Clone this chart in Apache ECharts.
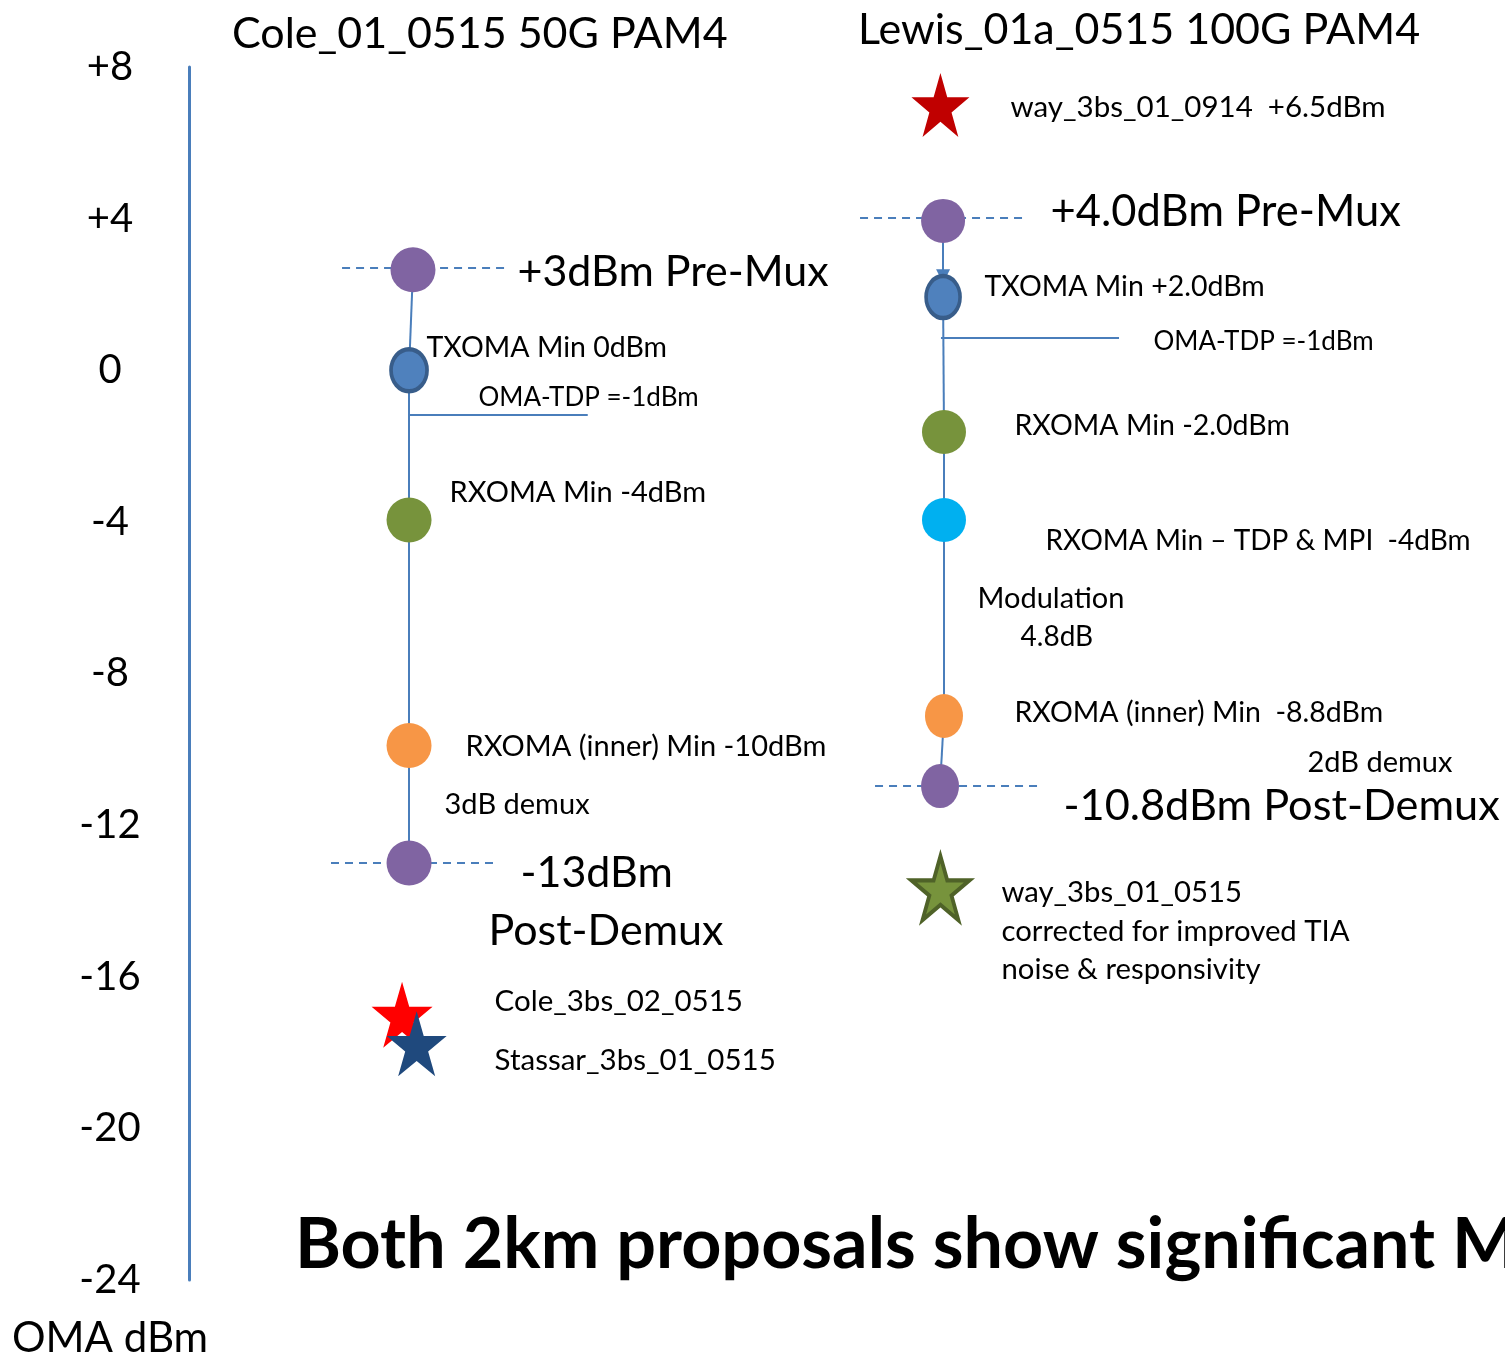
<!DOCTYPE html>
<html>
<head>
<meta charset="UTF-8">
<script src="https://cdn.jsdelivr.net/npm/echarts@6/dist/echarts.min.js"></script>
<style>
html, body { margin: 0; padding: 0; background: #fff; }
#main { width: 1505px; height: 1358px; }
</style>
</head>
<body>
<div id="main"></div>
<script>
// OMA dBm axis ticks
var yTicks = [8, 4, 0, -4, -8, -12, -16, -20, -24];

// Cole_01_0515 50G PAM4 ladder (dBm)
var coleSteps = ['Pre-Mux', 'TXOMA Min', 'RXOMA Min', 'RXOMA (inner) Min', 'Post-Demux'];
var coleValues = [2.65, 0.0, -3.95, -9.9, -13.0];
var coleTdp = -1.18;

// Lewis_01a_0515 100G PAM4 ladder
var lewisSteps = ['Pre-Mux', 'TXOMA Min', 'RXOMA Min', 'RXOMA Min - TDP & MPI', 'RXOMA (inner) Min', 'Post-Demux'];
var lewisValues = [3.94, 1.93, -1.63, -3.95, -9.12, -10.97];
var lewisTdp = 0.85;

// measured proposals (stars)
var starNames = ['way_3bs_01_0914', 'Cole_3bs_02_0515', 'Stassar_3bs_01_0515', 'way_3bs_01_0515'];
var starValues = [7.0, -17.0, -17.77, -13.66];

// ---- layout (hidden x axis runs 0..100) ----
var coleX = [17.02, 16.72, 16.72, 16.72, 16.72];
var lewisX = [57.3, 57.3, 57.37, 57.37, 57.37, 57.07];
var starX = [57.1, 16.19, 17.3, 57.1];

var coleLook = [
  { color: '#8064a2', size: [45, 45] },
  { color: '#4f81bd', border: '#385d8a', size: [36, 42] },
  { color: '#77933c', size: [45, 45] },
  { color: '#f79646', size: [45, 45] },
  { color: '#8064a2', size: [45, 45] }
];
var lewisLook = [
  { color: '#8064a2', size: [44, 44] },
  { color: '#4f81bd', border: '#385d8a', size: [34, 42] },
  { color: '#77933c', size: [44, 44] },
  { color: '#00b0f0', size: [44, 44] },
  { color: '#f79646', size: [38, 44] },
  { color: '#8064a2', size: [38, 44] }
];
var starLook = [
  { color: '#c00000', size: [58, 64] },
  { color: '#ff0000', size: [61, 66] },
  { color: '#1f497d', size: [60, 65] },
  { color: '#77933c', border: '#4f6228', size: [58, 64] }
];

// annotation text: [text, x, y(dBm), font size]
var notes = [
  ['+3dBm Pre-Mux', 24.92, 2.59, 43],
  ['TXOMA Min 0dBm', 18.01, 0.59, 28.5],
  ['OMA-TDP =-1dBm', 21.96, -0.73, 26],
  ['RXOMA Min -4dBm', 19.76, -3.24, 29],
  ['RXOMA (inner) Min -10dBm', 20.97, -9.94, 29],
  ['3dB demux', 19.38, -11.47, 29],
  ['-13dBm', 25.15, -13.26, 43],
  ['Post-Demux', 22.72, -14.79, 43],
  ['Cole_3bs_02_0515', 23.18, -16.66, 29.5],
  ['Stassar_3bs_01_0515', 23.18, -18.22, 29.5],
  ['way_3bs_01_0914  +6.5dBm', 62.39, 6.94, 29.5],
  ['+4.0dBm Pre-Mux', 65.43, 4.18, 43.5],
  ['TXOMA Min +2.0dBm', 60.41, 2.2, 28.5],
  ['OMA-TDP =-1dBm', 73.25, 0.75, 26],
  ['RXOMA Min -2.0dBm', 62.69, -1.47, 28.5],
  ['RXOMA Min \u2013 TDP & MPI  -4dBm', 65.05, -4.5, 28],
  ['Modulation', 59.88, -6.03, 29],
  ['4.8dB', 63.15, -7.04, 28],
  ['RXOMA (inner) Min  -8.8dBm', 62.69, -9.04, 28.5],
  ['2dB demux', 84.95, -10.36, 29],
  ['-10.8dBm Post-Demux', 66.41, -11.49, 43.3],
  ['way_3bs_01_0515', 61.7, -13.79, 29.3],
  ['corrected for improved TIA', 61.7, -14.82, 29.3],
  ['noise & responsivity', 61.7, -15.82, 29.3]
];

var FONT = 'Lato';
var LINE = '#4a7ebb';
var STAR = 'path://M50,0L61.2,34.5L97.6,34.5L68.2,55.9L79.4,90.5L50,69.1L20.6,90.5L31.8,55.9L2.4,34.5L38.8,34.5Z';

function pts(xs, vs, look, names) {
  return vs.map(function (v, i) {
    var it = {
      name: names[i],
      value: [xs[i], v],
      symbolSize: look[i].size,
      itemStyle: { color: look[i].color, opacity: 1 }
    };
    if (look[i].border) {
      it.itemStyle.borderColor = look[i].border;
      it.itemStyle.borderWidth = 4;
    }
    return it;
  });
}

function seg(a, b, dashed) {
  var d = { coords: [a, b] };
  if (dashed) d.lineStyle = { type: [8, 6] };
  return d;
}

var links = [
  seg([coleX[0], coleValues[0]], [coleX[1], coleValues[1]]),
  seg([coleX[1], coleValues[1]], [coleX[4], coleValues[4]]),
  seg([coleX[1], coleTdp], [30.3, coleTdp]),
  seg([11.63, coleValues[0] + 0.05], [24.01, coleValues[0] + 0.05], true),
  seg([10.79, coleValues[4]], [23.18, coleValues[4]], true),
  seg([lewisX[1], lewisValues[1]], [lewisX[2], lewisValues[2]]),
  seg([lewisX[2], lewisValues[2]], [lewisX[3], lewisValues[3]]),
  seg([lewisX[3], lewisValues[3]], [lewisX[4], lewisValues[4]]),
  seg([lewisX[4], lewisValues[4]], [lewisX[5], lewisValues[5]]),
  seg([57.14, lewisTdp], [70.67, lewisTdp]),
  seg([50.99, lewisValues[0] + 0.08], [63.3, lewisValues[0] + 0.08], true),
  seg([52.13, lewisValues[5]], [64.44, lewisValues[5]], true)
];

var chart = echarts.init(document.getElementById('main'), null, { renderer: 'canvas' });

var option = {
  backgroundColor: '#fff',
  animation: false,
  grid: { left: 189, right: 0, top: 67, bottom: 78 },
  xAxis: { type: 'value', min: 0, max: 100, show: false },
  yAxis: {
    type: 'value',
    min: yTicks[yTicks.length - 1],
    max: yTicks[0],
    interval: 4,
    axisLine: { show: true, lineStyle: { color: LINE, width: 3 } },
    axisTick: { show: false },
    splitLine: { show: false },
    axisLabel: {
      margin: 79,
      align: 'center',
      fontSize: 40,
      fontFamily: FONT,
      color: '#000',
      formatter: function (v) { return v > 0 ? '+' + v : String(v); }
    }
  },
  graphic: [
    { type: 'text', x: 232, y: 34, style: { text: 'Cole_01_0515 50G PAM4', font: '43px ' + FONT, fill: '#000', verticalAlign: 'middle' } },
    { type: 'text', x: 858, y: 30, style: { text: 'Lewis_01a_0515 100G PAM4', font: '43px ' + FONT, fill: '#000', verticalAlign: 'middle' } },
    { type: 'text', x: 110, y: 1338, style: { text: 'OMA dBm', font: '42px ' + FONT, fill: '#000', align: 'center', verticalAlign: 'middle' } },
    { type: 'text', x: 295, y: 1245, style: { text: 'Both 2km proposals show significant M', font: 'bold 70px ' + FONT, fill: '#000', verticalAlign: 'middle' } }
  ],
  series: [
    {
      type: 'lines',
      coordinateSystem: 'cartesian2d',
      z: 1,
      lineStyle: { color: LINE, width: 2, opacity: 1 },
      data: links
    },
    {
      type: 'lines',
      coordinateSystem: 'cartesian2d',
      z: 2,
      symbol: ['none', 'triangle'],
      symbolSize: 14,
      lineStyle: { color: LINE, width: 2, opacity: 1 },
      data: [seg([lewisX[0], lewisValues[0]], [lewisX[1], lewisValues[1] + 0.55])]
    },
    {
      type: 'scatter',
      z: 3,
      data: pts(coleX, coleValues, coleLook, coleSteps).concat(pts(lewisX, lewisValues, lewisLook, lewisSteps))
    },
    {
      type: 'scatter',
      z: 3,
      symbol: STAR,
      data: pts(starX, starValues, starLook, starNames)
    },
    {
      type: 'scatter',
      z: 4,
      symbolSize: 1,
      itemStyle: { color: 'rgba(0,0,0,0)', opacity: 1 },
      label: {
        show: true,
        position: 'right',
        distance: 0,
        color: '#000',
        opacity: 1,
        fontFamily: FONT,
        formatter: '{b}'
      },
      data: notes.map(function (n) {
        return { name: n[0], value: [n[1], n[2]], label: { fontSize: n[3] } };
      })
    }
  ]
};

chart.setOption(option);
</script>
</body>
</html>
